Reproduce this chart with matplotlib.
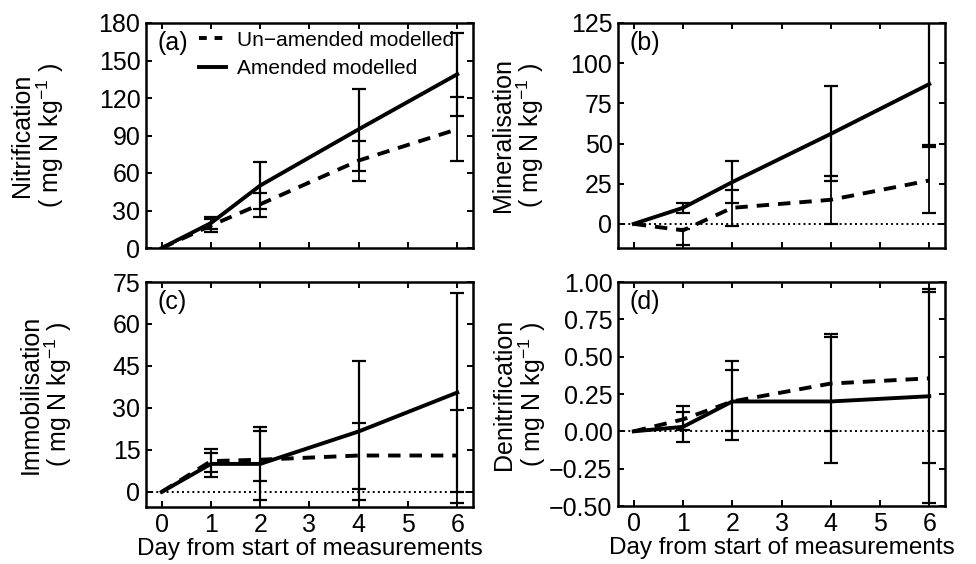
"""
Nitrogen transformation panels: modelled lines with observed error bars.
"""
import matplotlib
matplotlib.use("Agg")
import matplotlib.pyplot as plt
from matplotlib.lines import Line2D
import matplotlib.ticker as mticker

plt.rcParams["font.family"] = ["Liberation Sans", "DejaVu Sans"]
plt.rcParams["mathtext.default"] = "regular"

# ── Data ──────────────────────────────────────────────────────────────────
days = [0, 1, 2, 4, 6]
obs_days = [1, 2, 4, 6]

# (a) Nitrification
nit_un = [0, 18, 35, 70, 95]
nit_am = [0, 20, 50, 95, 139]
nit_un_lo = [13, 25, 54, 70]
nit_un_hi = [23, 44, 86, 121]
nit_am_lo = [15, 31, 62, 106]
nit_am_hi = [25, 69, 127, 172]

# (b) Mineralisation
min_un = [0, -4, 10, 15, 27]
min_am = [0, 10, 26, 56, 87]
min_un_lo = [-13, -1, 0, 7]
min_un_hi = [-3, 21, 30, 48]
min_am_lo = [7, 13, 27, 49]
min_am_hi = [13, 39, 86, 126]

# (c) Immobilisation
imm_un = [0, 11, 11.5, 13, 13]
imm_am = [0, 10, 10, 21.6, 35.5]
imm_un_lo = [7, 4, 1, -4]
imm_un_hi = [15.4, 21.6, 24.7, 29.4]
imm_am_lo = [5.4, -3, -3, 0]
imm_am_hi = [14, 23.3, 46.6, 71]

# (d) Denitrification
den_un = [0, 0.08, 0.2, 0.32, 0.355]
den_am = [0, 0.03, 0.2, 0.2, 0.235]
den_un_lo = [0.01, 0.0, 0.0, -0.21]
den_un_hi = [0.17, 0.41, 0.65, 0.93]
den_am_lo = [-0.07, -0.06, -0.21, -0.48]
den_am_hi = [0.13, 0.47, 0.63, 0.955]

PANELS = [
    ("(a)", "Nitrification", nit_un, nit_am, nit_un_lo, nit_un_hi, nit_am_lo, nit_am_hi,
     (0, 180), [0, 30, 60, 90, 120, 150, 180], 0),
    ("(b)", "Mineralisation", min_un, min_am, min_un_lo, min_un_hi, min_am_lo, min_am_hi,
     (-15, 125), [0, 25, 50, 75, 100, 125], 0),
    ("(c)", "Immobilisation", imm_un, imm_am, imm_un_lo, imm_un_hi, imm_am_lo, imm_am_hi,
     (-5.4, 75), [0, 15, 30, 45, 60, 75], 0),
    ("(d)", "Denitrification", den_un, den_am, den_un_lo, den_un_hi, den_am_lo, den_am_hi,
     (-0.5, 1.0), [-0.5, -0.25, 0, 0.25, 0.5, 0.75, 1.0], 2),
]

# axes boxes in pixels: left, top, right, bottom
W, H = 976, 564
BOXES = [(146, 23, 473, 248), (618, 23, 945, 248),
         (146, 282, 473, 507), (618, 282, 945, 506)]
LABEL_X = [-0.245, -0.22, -0.22, -0.215]


def tick_fmt(decimals):
    def f(v, pos):
        s = f"{abs(v):.{decimals}f}"
        return ("\u2212" + s) if v < -1e-9 else s
    return mticker.FuncFormatter(f)


fig = plt.figure(figsize=(W / 100, H / 100), dpi=100)

for i, (tag, name, un, am, un_lo, un_hi, am_lo, am_hi, ylim, yticks, dec) in enumerate(PANELS):
    l, t, r, b = BOXES[i]
    ax = fig.add_axes([l / W, 1 - b / H, (r - l) / W, (b - t) / H])

    if ylim[0] < 0:
        ax.axhline(0, color="black", linestyle=":", linewidth=1.4, zorder=1)

    un_mid = [(lo + hi) / 2 for lo, hi in zip(un_lo, un_hi)]
    un_err = [[m - lo for m, lo in zip(un_mid, un_lo)], [hi - m for m, hi in zip(un_mid, un_hi)]]
    am_mid = [(lo + hi) / 2 for lo, hi in zip(am_lo, am_hi)]
    am_err = [[m - lo for m, lo in zip(am_mid, am_lo)], [hi - m for m, hi in zip(am_mid, am_hi)]]
    ax.errorbar(obs_days, un_mid, yerr=un_err, fmt="none", ecolor="black",
                elinewidth=1.3, capsize=5, capthick=1.6)
    ax.errorbar(obs_days, am_mid, yerr=am_err, fmt="none", ecolor="black",
                elinewidth=1.6, capsize=5, capthick=1.6)

    ax.plot(days, un, color="black", linewidth=2.8, linestyle=(0, (3.2, 2.3)),
            dash_capstyle="butt")
    ax.plot(days, am, color="black", linewidth=2.8)

    ax.set_xlim(-0.32, 6.32)
    ax.set_ylim(*ylim)
    ax.set_xticks(range(7))
    ax.set_yticks(yticks)
    ax.yaxis.set_major_formatter(tick_fmt(dec))
    ax.tick_params(direction="in", top=True, right=True, length=4, width=1.4,
                   labelsize=18, pad=4)
    for sp in ax.spines.values():
        sp.set_linewidth(1.8)

    if i < 2:
        ax.tick_params(labelbottom=False)
    else:
        ax.set_xlabel("Day from start of measurements", fontsize=17.5, labelpad=1)

    ax.set_ylabel(name + "\n( mg N kg$^{-1}$ )", fontsize=18, linespacing=1.0)
    ax.yaxis.set_label_coords(LABEL_X[i], 0.5)

    ax.text(0.035, 0.965, tag, transform=ax.transAxes, fontsize=18,
            ha="left", va="top")

    if i == 0:
        handles = [
            Line2D([], [], color="black", linewidth=2.8, linestyle=(0, (2.0, 2.0))),
            Line2D([], [], color="black", linewidth=2.8),
        ]
        ax.legend(handles, ["Un\u2212amended modelled", "Amended modelled"],
                  loc="upper left", bbox_to_anchor=(0.15, 0.985), frameon=False,
                  fontsize=15, handlelength=1.3, handletextpad=0.5,
                  labelspacing=0.45, borderpad=0.2, borderaxespad=0)

fig.savefig("out.png", dpi=100)
